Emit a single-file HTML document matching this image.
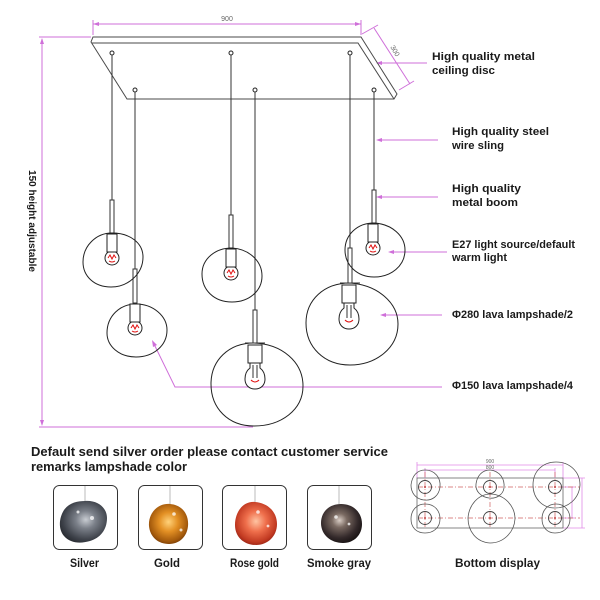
<!DOCTYPE html>
<html><head><meta charset="utf-8"><style>
html,body{margin:0;padding:0;background:#fff;}
svg{display:block;}
text{font-family:"Liberation Sans",Arial,sans-serif;font-weight:bold;fill:#1a1a1a;}
.t{font-size:11px;}
.dim{font-weight:normal;fill:#666;font-size:7px;}
</style></head><body>
<svg width="600" height="600" viewBox="0 0 600 600" xmlns="http://www.w3.org/2000/svg">
<defs>
<radialGradient id="gS" cx="0.55" cy="0.45" r="0.6"><stop offset="0" stop-color="#c8ccd2"/><stop offset="0.35" stop-color="#7b8089"/><stop offset="0.8" stop-color="#3e424a"/><stop offset="1" stop-color="#2a2d33"/></radialGradient>
<radialGradient id="gG" cx="0.5" cy="0.45" r="0.6"><stop offset="0" stop-color="#ffd27a"/><stop offset="0.4" stop-color="#e39024"/><stop offset="0.8" stop-color="#a45a0c"/><stop offset="1" stop-color="#6e3504"/></radialGradient>
<radialGradient id="gR" cx="0.5" cy="0.45" r="0.6"><stop offset="0" stop-color="#ffc4a2"/><stop offset="0.4" stop-color="#ef6f4c"/><stop offset="0.8" stop-color="#c23a22"/><stop offset="1" stop-color="#8e1e12"/></radialGradient>
<radialGradient id="gK" cx="0.45" cy="0.42" r="0.6"><stop offset="0" stop-color="#d8ccc4"/><stop offset="0.3" stop-color="#7a6a62"/><stop offset="0.75" stop-color="#33292a"/><stop offset="1" stop-color="#1a1414"/></radialGradient>
</defs>

<!-- ===== dimension lines (magenta) ===== -->
<g stroke="#cf6fd9" stroke-width="1" fill="none">
  <!-- 900 -->
  <line x1="93" y1="24" x2="361" y2="24"/>
  <line x1="93" y1="20" x2="93" y2="35"/>
  <line x1="361" y1="20" x2="361" y2="35"/>
  <!-- 300 -->
  <line x1="374" y1="28" x2="410" y2="84"/>
  <line x1="362" y1="34" x2="378" y2="25"/>
  <line x1="399" y1="90" x2="414" y2="81"/>
  <!-- height -->
  <line x1="39" y1="37" x2="91" y2="37"/>
  <line x1="42" y1="39" x2="42" y2="425"/>
  <line x1="39" y1="427" x2="253" y2="427"/>
  <!-- annotation leaders -->
  <line x1="378" y1="63" x2="427" y2="63"/>
  <line x1="378" y1="140" x2="438" y2="140"/>
  <line x1="378" y1="197" x2="438" y2="197"/>
  <line x1="390" y1="252" x2="447" y2="252"/>
  <line x1="382" y1="315" x2="442" y2="315"/>
  <polyline points="153,342 175,387 442,387"/>
</g>
<g fill="#cf6fd9">
  <polygon points="93,24 99,22 99,26"/>
  <polygon points="361,24 355,22 355,26"/>
  <polygon points="42,38 40,44 44,44"/>
  <polygon points="42,426 40,420 44,420"/>
  <polygon points="376,63 382,61 382,65"/>
  <polygon points="376,140 382,138 382,142"/>
  <polygon points="376,197 382,195 382,199"/>
  <polygon points="388,252 394,250 394,254"/>
  <polygon points="380,315 386,313 386,317"/>
  <polygon points="152,340 153,347 157,345"/>
</g>
<text class="dim" x="227" y="21" text-anchor="middle">900</text>
<text class="dim" transform="translate(393,52) rotate(60)" text-anchor="middle">300</text>
<text transform="translate(29,170) rotate(90)" style="font-size:10px" textLength="102" lengthAdjust="spacingAndGlyphs">150 height adjustable</text>

<!-- ===== canopy ===== -->
<g stroke="#4a4a4a" stroke-width="1" fill="none">
  <polygon points="93,37 361,37 397,94 394,99 127,99 91,42"/>
  <polyline points="92,43 358,43 394,99"/>
</g>
<!-- hooks -->
<g stroke="#222" stroke-width="1" fill="#fff">
  <circle cx="112" cy="53" r="2"/><circle cx="231" cy="53" r="2"/><circle cx="350" cy="53" r="2"/>
  <circle cx="135" cy="90" r="2"/><circle cx="255" cy="90" r="2"/><circle cx="374" cy="90" r="2"/>
</g>

<!-- ===== wires & booms ===== -->
<g stroke="#333" stroke-width="1" fill="#fff">
  <line x1="112" y1="55" x2="112" y2="200"/>
  <line x1="135" y1="92" x2="135" y2="269"/>
  <line x1="231" y1="55" x2="231" y2="215"/>
  <line x1="255" y1="92" x2="255" y2="310"/>
  <line x1="350" y1="55" x2="350" y2="248"/>
  <line x1="374" y1="92" x2="374" y2="190"/>
  <rect x="110" y="200" width="4" height="33"/>
  <rect x="133" y="269" width="4" height="34"/>
  <rect x="229" y="215" width="4" height="33"/>
  <rect x="253" y="310" width="4" height="33"/>
  <rect x="348" y="248" width="4" height="35"/>
  <rect x="372" y="190" width="4" height="33"/>
</g>

<!-- ===== shades ===== -->
<g stroke="#222" stroke-width="1" fill="none">
  <path d="M112,233 C130,233 143,243 143,257 C143,274 128,287 111,287 C94,287 83,276 83,262 C83,246 96,233 112,233Z"/>
  <path d="M136,304 C153,304 167,316 167,330 C167,346 153,357 136,357 C119,357 107,346 107,333 C107,316 120,304 136,304Z"/>
  <path d="M232,248 C249,249 262,261 262,276 C262,291 249,302 232,302 C214,302 202,290 202,274 C202,259 215,248 232,248Z"/>
  <path d="M254,343 C282,344 303,362 303,386 C303,410 281,426 254,426 C228,426 211,408 211,384 C211,360 229,343 254,343Z"/>
  <path d="M350,283 C378,285 398,303 398,324 C398,348 376,365 350,365 C324,365 306,347 306,323 C306,300 324,283 350,283Z"/>
  <path d="M374,223 C392,224 405,236 405,250 C405,266 391,277 374,277 C357,277 345,265 345,250 C345,235 357,223 374,223Z"/>
</g>

<!-- ===== sockets & bulbs ===== -->
<g stroke="#222" stroke-width="1" fill="#fff">
  <!-- small lamps -->
  <circle cx="112" cy="258" r="7"/><rect x="107" y="234" width="10" height="18"/>
  <circle cx="135" cy="328" r="7"/><rect x="130" y="304" width="10" height="18"/>
  <circle cx="231" cy="273" r="7"/><rect x="226" y="249" width="10" height="18"/>
  <circle cx="373" cy="248" r="7"/><rect x="368" y="224" width="10" height="18"/>
  <!-- big lamps -->
  <path d="M250,363 L250,368 C246,371 245,375 245,379 C245,385 249,389 255,389 C261,389 265,385 265,379 C265,375 264,371 260,368 L260,363Z"/>
  <rect x="248" y="345" width="14" height="18"/>
  <path d="M344,303 L344,308 C340,311 339,315 339,319 C339,325 343,329 349,329 C355,329 359,325 359,319 C359,315 358,311 354,308 L354,303Z"/>
  <rect x="342" y="285" width="14" height="18"/>
</g>
<g stroke="#333" stroke-width="1" fill="none">
  <line x1="245" y1="343" x2="265" y2="343"/>
  <line x1="340" y1="283" x2="360" y2="283"/>
  <line x1="253" y1="365" x2="253" y2="378"/><line x1="257" y1="365" x2="257" y2="378"/>
  <line x1="347" y1="305" x2="347" y2="318"/><line x1="351" y1="305" x2="351" y2="318"/>
</g>
<g stroke="#e01010" stroke-width="1" fill="none">
  <path d="M108,258 L110,255 L112,259 L114,255 L116,258 M109,261 Q112,263 115,261"/>
  <path d="M131,328 L133,325 L135,329 L137,325 L139,328 M132,331 Q135,333 138,331"/>
  <path d="M227,273 L229,270 L231,274 L233,270 L235,273 M228,276 Q231,278 234,276"/>
  <path d="M369,248 L371,245 L373,249 L375,245 L377,248 M370,251 Q373,253 376,251"/>
  <path d="M251,380 Q255,384 259,380"/>
  <path d="M345,320 Q349,324 353,320"/>
</g>

<!-- ===== annotation labels ===== -->
<text class="t" x="432" y="60" textLength="103" lengthAdjust="spacingAndGlyphs">High quality metal</text>
<text class="t" x="432" y="74" textLength="63" lengthAdjust="spacingAndGlyphs">ceiling disc</text>
<text class="t" x="452" y="135" textLength="97" lengthAdjust="spacingAndGlyphs">High quality steel</text>
<text class="t" x="452" y="149" textLength="52" lengthAdjust="spacingAndGlyphs">wire sling</text>
<text class="t" x="452" y="192" textLength="69" lengthAdjust="spacingAndGlyphs">High quality</text>
<text class="t" x="452" y="206" textLength="66" lengthAdjust="spacingAndGlyphs">metal boom</text>
<text class="t" x="452" y="248" textLength="123" lengthAdjust="spacingAndGlyphs">E27 light source/default</text>
<text class="t" x="452" y="261" textLength="55" lengthAdjust="spacingAndGlyphs">warm light</text>
<text class="t" x="452" y="318" textLength="121" lengthAdjust="spacingAndGlyphs">Φ280 lava lampshade/2</text>
<text class="t" x="452" y="389" textLength="121" lengthAdjust="spacingAndGlyphs">Φ150 lava lampshade/4</text>

<!-- ===== bottom heading ===== -->
<text x="31" y="456" style="font-size:13px" textLength="357" lengthAdjust="spacingAndGlyphs">Default send silver order please contact customer service</text>
<text x="31" y="471" style="font-size:13px" textLength="156" lengthAdjust="spacingAndGlyphs">remarks lampshade color</text>

<!-- ===== swatches ===== -->
<g stroke="#333" stroke-width="1" fill="#fff">
  <rect x="53.5" y="485.5" width="64" height="64" rx="6"/>
  <rect x="138.5" y="485.5" width="64" height="64" rx="6"/>
  <rect x="222.5" y="485.5" width="64" height="64" rx="6"/>
  <rect x="307.5" y="485.5" width="64" height="64" rx="6"/>
</g>
<g stroke="#bbb" stroke-width="1">
  <line x1="85" y1="486" x2="85" y2="502"/>
  <line x1="170" y1="486" x2="170" y2="505"/>
  <line x1="255" y1="486" x2="255" y2="503"/>
  <line x1="339" y1="486" x2="339" y2="504"/>
</g>
<path d="M85,501 C98,500 107,508 107,518 C107,530 100,538 90,541 C80,544 70,543 64,536 C58,529 59,518 64,510 C69,503 77,501 85,501Z" fill="url(#gS)"/>
<path d="M170,504 C182,505 189,514 188,526 C187,537 179,544 169,544 C158,544 150,537 149,526 C148,514 157,503 170,504Z" fill="url(#gG)"/>
<path d="M255,502 C268,503 277,512 277,524 C277,536 268,545 256,545 C244,545 235,537 235,525 C235,512 243,501 255,502Z" fill="url(#gR)"/>
<path d="M341,504 C354,504 362,513 362,524 C362,535 354,543 343,543 C331,543 321,535 321,523 C321,512 329,504 341,504Z" fill="url(#gK)"/>
<g fill="#fff" opacity="0.75">
  <circle cx="92" cy="518" r="2"/><circle cx="78" cy="512" r="1.5"/>
  <circle cx="174" cy="514" r="1.8"/><circle cx="181" cy="530" r="1.5"/>
  <circle cx="258" cy="512" r="1.8"/><circle cx="268" cy="526" r="1.4"/>
  <circle cx="336" cy="517" r="1.8"/><circle cx="349" cy="524" r="1.4"/>
</g>
<text class="t" x="70" y="567" style="font-size:11.5px" textLength="29" lengthAdjust="spacingAndGlyphs">Silver</text>
<text class="t" x="154" y="567" style="font-size:11.5px" textLength="26" lengthAdjust="spacingAndGlyphs">Gold</text>
<text class="t" x="230" y="567" style="font-size:11.5px" textLength="49" lengthAdjust="spacingAndGlyphs">Rose gold</text>
<text class="t" x="307" y="567" style="font-size:11.5px" textLength="64" lengthAdjust="spacingAndGlyphs">Smoke gray</text>

<!-- ===== bottom display ===== -->
<g stroke="#e08ae6" stroke-width="0.8" fill="none">
  <line x1="417" y1="465" x2="563" y2="465"/>
  <line x1="417" y1="462" x2="417" y2="478"/><line x1="563" y1="462" x2="563" y2="478"/>
  <line x1="425" y1="470" x2="555" y2="470"/>
  <line x1="425" y1="468" x2="425" y2="478"/><line x1="555" y1="468" x2="555" y2="478"/>
  <line x1="582" y1="478" x2="582" y2="528"/>
  <line x1="563" y1="478" x2="585" y2="478"/><line x1="563" y1="528" x2="585" y2="528"/>
  <line x1="572" y1="487" x2="572" y2="518"/>
  <line x1="560" y1="487" x2="575" y2="487"/><line x1="560" y1="518" x2="575" y2="518"/>
</g>
<text class="dim" x="490" y="463" text-anchor="middle" style="font-size:5px">900</text>
<text class="dim" x="490" y="469" text-anchor="middle" style="font-size:5px">800</text>
<g stroke="#d06060" stroke-width="0.7" stroke-dasharray="5,2,1,2" fill="none">
  <line x1="418" y1="487" x2="580" y2="487"/>
  <line x1="418" y1="518" x2="580" y2="518"/>
  <line x1="425" y1="472" x2="425" y2="528"/>
  <line x1="490" y1="472" x2="490" y2="528"/>
  <line x1="555" y1="472" x2="555" y2="528"/>
</g>
<rect x="417" y="478" width="146" height="50" stroke="#666" stroke-width="0.8" fill="none"/>
<g stroke="#555" stroke-width="0.8" fill="none">
  <path d="M425,470 C435,470 441,478 440,487 C439,496 432,501 424,500 C415,499 411,492 411,485 C412,476 417,470 425,470Z"/>
  <path d="M490,470 C500,471 505,479 504,488 C503,495 496,499 489,498 C481,497 475,491 476,484 C477,476 482,470 490,470Z"/>
  <path d="M556,462 C570,462 580,472 580,485 C579,499 568,508 555,508 C542,508 533,498 533,485 C533,471 543,462 556,462Z"/>
  <path d="M425,504 C435,504 440,511 440,519 C440,528 433,533 425,533 C416,533 411,527 411,519 C411,510 417,504 425,504Z"/>
  <path d="M491,494 C505,495 515,506 515,519 C514,533 503,543 490,543 C476,542 468,531 468,518 C469,505 478,494 491,494Z"/>
  <path d="M556,504 C565,504 570,511 570,519 C570,528 563,533 555,533 C547,533 542,527 542,519 C542,510 548,504 556,504Z"/>
</g>
<g stroke="#444" stroke-width="0.9" fill="none">
  <circle cx="425" cy="487" r="6.5"/><circle cx="490" cy="487" r="6.5"/><circle cx="555" cy="487" r="6.5"/>
  <circle cx="425" cy="518" r="6.5"/><circle cx="490" cy="518" r="6.5"/><circle cx="555" cy="518" r="6.5"/>
</g>
<g fill="#c04040">
  <circle cx="425" cy="487" r="1"/><circle cx="490" cy="487" r="1"/><circle cx="555" cy="487" r="1"/>
  <circle cx="425" cy="518" r="1"/><circle cx="490" cy="518" r="1"/><circle cx="555" cy="518" r="1"/>
</g>
<text class="t" x="455" y="567" style="font-size:11.5px" textLength="85" lengthAdjust="spacingAndGlyphs">Bottom display</text>
</svg>
</body></html>
